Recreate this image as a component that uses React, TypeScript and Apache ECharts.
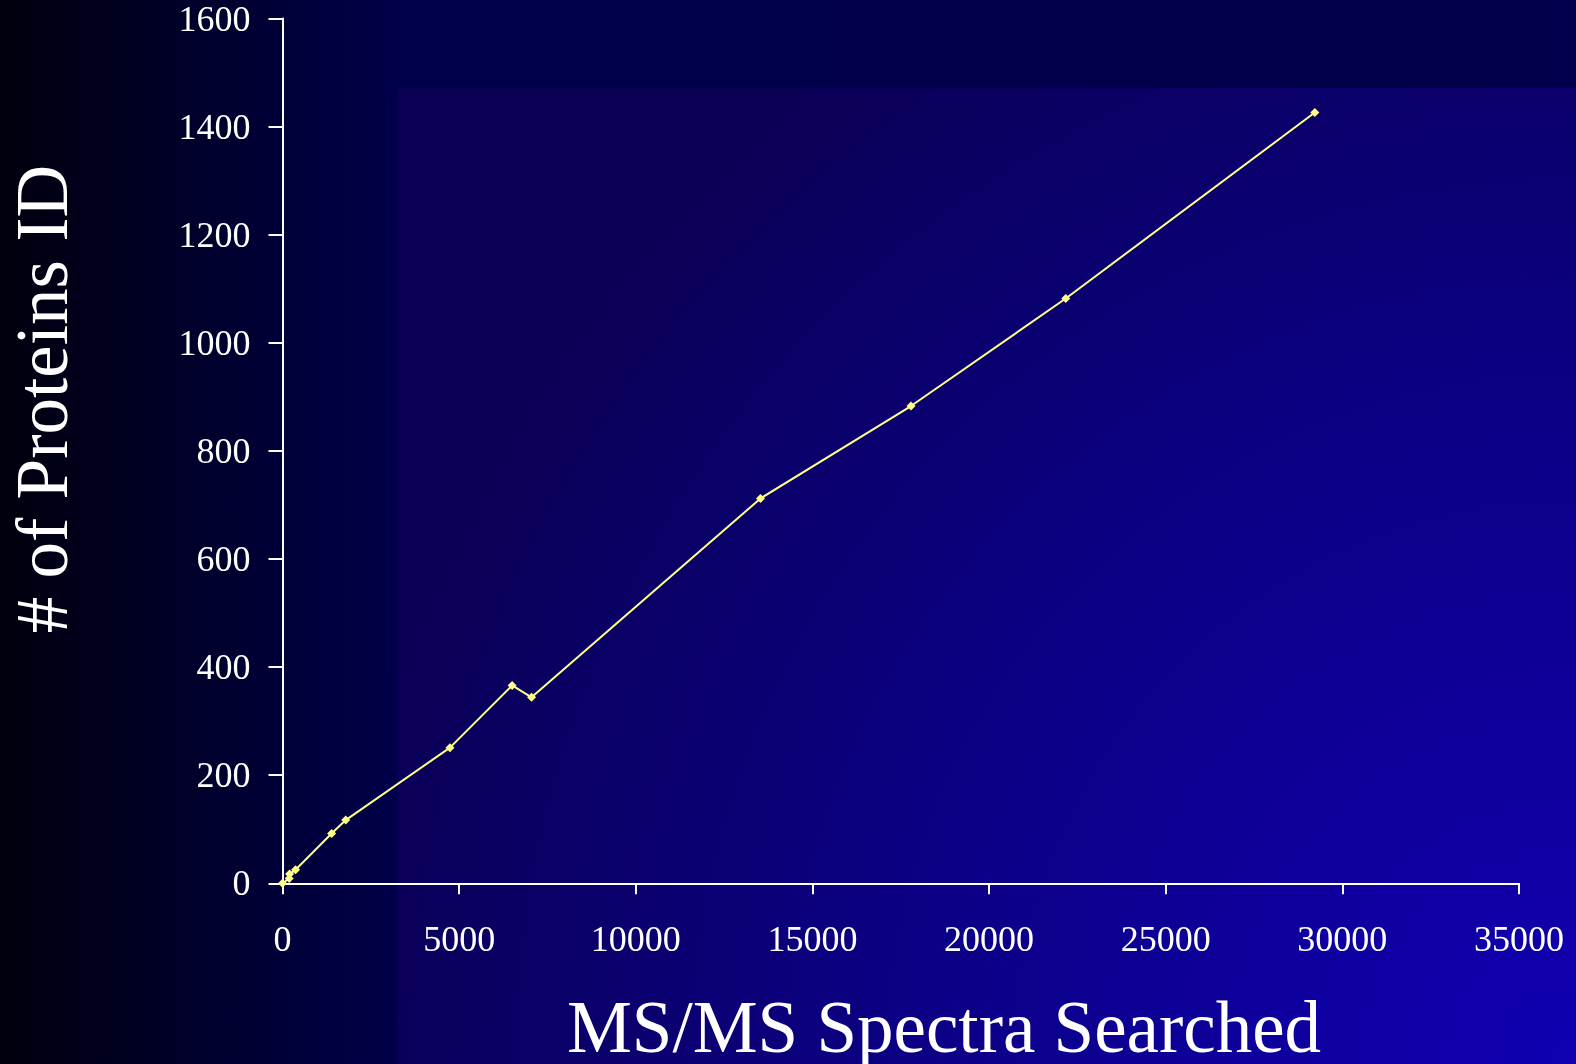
import React, { useEffect, useRef } from "react";
import * as echarts from "echarts";

// Cumulative MS/MS spectra searched vs. number of proteins identified
const spectraSearched = [0, 190, 200, 370, 1390, 1790, 4740, 6500, 7050, 13530, 17790, 22170, 29220];
const proteinsIdentified = [0, 9, 17, 25, 92, 117, 251, 366, 344, 712, 883, 1082, 1426];

const xTickStep = 5000;
const xMax = 35000;
const yTickStep = 200;
const yMax = 1600;

const xTitle = "MS/MS Spectra Searched";
const yTitle = "# of Proteins ID";

const W = 1576;
const H = 1064;
const serif = "'Liberation Serif', 'Times New Roman', serif";

export default function App() {
  const ref = useRef<HTMLDivElement>(null);

  useEffect(() => {
    document.body.style.margin = "0";
    const chart = echarts.init(ref.current!, undefined, { renderer: "svg" });
    const points = spectraSearched.map((x, i) => [x, proteinsIdentified[i]]);

    chart.setOption({
      animation: false,
      graphic: [
        {
          type: "rect",
          z: -10,
          silent: true,
          shape: { x: 0, y: 0, width: W, height: H },
          style: {
            fill: new echarts.graphic.LinearGradient(0, 0, 1, 0, [
              { offset: 0, color: "#00000e" },
              { offset: 0.252, color: "#00004a" },
              { offset: 1, color: "#00004c" },
            ]),
          },
        },
        {
          type: "rect",
          z: -9,
          silent: true,
          shape: { x: 397, y: 88, width: W - 397, height: H - 88 },
          style: {
            fill: new echarts.graphic.RadialGradient(
              W,
              H,
              1250,
              [
                { offset: 0, color: "#1000b2" },
                { offset: 0.5, color: "#0c0088" },
                { offset: 1, color: "#0a0056" },
              ],
              true
            ),
          },
        },
        {
          type: "text",
          x: W / 2 + 156,
          y: 1027,
          style: {
            text: xTitle,
            fill: "#ffffff",
            font: `73px ${serif}`,
            lineHeight: 50,
            align: "center",
            verticalAlign: "middle",
          },
        },
        {
          type: "text",
          x: 42,
          y: 399,
          rotation: Math.PI / 2,
          style: {
            text: yTitle,
            fill: "#ffffff",
            font: `73px ${serif}`,
            align: "center",
            verticalAlign: "middle",
          },
        },
      ],
      grid: {
        left: 282.5,
        top: 18.5,
        right: W - 1519,
        bottom: H - 883.3,
        containLabel: false,
      },
      xAxis: {
        type: "value",
        min: 0,
        max: xMax,
        interval: xTickStep,
        splitLine: { show: false },
        axisLine: { show: true, onZero: false, lineStyle: { color: "#ffffff", width: 2 } },
        axisTick: { show: true, length: 11, lineStyle: { color: "#ffffff", width: 2 } },
        axisLabel: {
          color: "#ffffff",
          fontFamily: serif,
          fontSize: 36,
          margin: 38,
          formatter: (v: number) => String(v),
        },
      },
      yAxis: {
        type: "value",
        min: 0,
        max: yMax,
        interval: yTickStep,
        splitLine: { show: false },
        axisLine: { show: true, onZero: false, lineStyle: { color: "#ffffff", width: 2 } },
        axisTick: { show: true, length: 14, lineStyle: { color: "#ffffff", width: 2 } },
        axisLabel: {
          color: "#ffffff",
          fontFamily: serif,
          fontSize: 36,
          margin: 32,
          formatter: (v: number) => String(v),
        },
      },
      series: [
        {
          type: "line",
          data: points,
          symbol: "diamond",
          symbolSize: 9,
          showSymbol: true,
          lineStyle: { color: "#ffff88", width: 2 },
          itemStyle: { color: "#ffff88" },
          z: 5,
        },
      ],
    });

    return () => chart.dispose();
  }, []);

  return (
    <div
      ref={ref}
      style={{ position: "fixed", left: 0, top: 0, width: W, height: H }}
    />
  );
}
